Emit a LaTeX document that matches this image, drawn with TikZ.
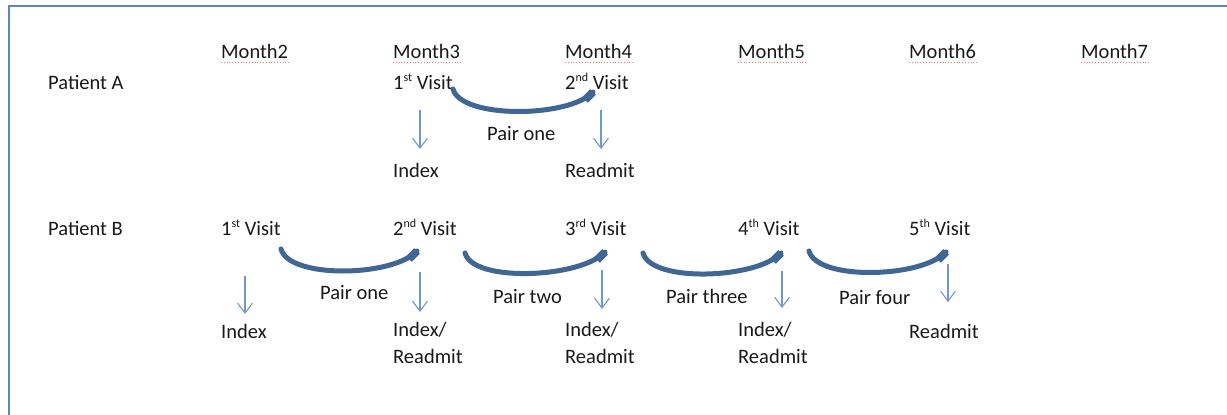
\documentclass[tikz,border=0pt]{standalone}
\usepackage{fontspec}
\setmainfont{Carlito}
\usetikzlibrary{arrows.meta,calc}
\definecolor{framec}{HTML}{5B86C5}
\definecolor{arcc}{HTML}{3F6694}
\definecolor{arrc}{HTML}{6F98CF}
\newcommand{\pairarc}[2]{%
  \draw[arcline] (#1) .. controls ($(#1)+(8,30)$) and ($(#2)+(-24,26)$) .. (#2);
  \draw[arcend] ($(#2)+(-8,8)$) -- (#2);}
\newcommand{\sups}[1]{\raisebox{0.75ex}{\fontsize{12}{12}\selectfont #1}}
\begin{document}
\begin{tikzpicture}[x=1pt,y=-1pt,
  lbl/.style={anchor=base west,inner sep=0pt,font=\fontsize{20.5}{27}\selectfont,text=black!90},
  lbl2/.style={lbl,align=left,anchor=north west},
  arr/.style={draw=arrc,line width=1.1pt,-{Straight Barb[length=10pt,width=15pt]}},
  arcline/.style={draw=arcc,line width=5pt,line cap=round},
  arcend/.style={draw=arcc,line width=8pt},
  spell/.style={draw=red!55,dotted,line width=0.8pt},
  framel/.style={draw=framec,line width=2.5pt}]
\useasboundingbox (0,0) rectangle (1227,415);
\coordinate (ftl) at (9,6);
\coordinate (ftr) at (1227,6);
\coordinate (fbl) at (9,415);
\draw[framel] (ftr) -- (ftl) -- (fbl);
% months
\foreach \n/\x in {2/221,3/393,4/565,5/738,6/909,7/1081}{
  \node[lbl] (m\n) at (\x,58) {Month\n};
  \draw[spell] (m\n.base west)++(0,4) -- ($(m\n.base east)+(0,4)$);
}
% patient A
\node[lbl] (pa) at (48,89) {Patient A};
\node[lbl] (a1) at (393,89) {1\sups{st} Visit};
\node[lbl] (a2) at (565,89) {2\sups{nd} Visit};
\node[lbl] (apo) at (487,140) {Pair one};
\node[lbl] (ai) at (393,177) {Index};
\node[lbl] (ar) at (565,177) {Readmit};
\coordinate (as) at (453,89);
\coordinate (ae) at (593,92);
\pairarc{as}{ae}
\coordinate (aa1t) at (420,110); \coordinate (aa1b) at (420,149);
\coordinate (aa2t) at (601,110); \coordinate (aa2b) at (601,149);
\draw[arr] (aa1t) -- (aa1b);
\draw[arr] (aa2t) -- (aa2b);
% patient B
\node[lbl] (pb) at (48,235) {Patient B};
\node[lbl] (b1) at (221,235) {1\sups{st} Visit};
\node[lbl] (b2) at (393,235) {2\sups{nd} Visit};
\node[lbl] (b3) at (565,235) {3\sups{rd} Visit};
\node[lbl] (b4) at (738,235) {4\sups{th} Visit};
\node[lbl] (b5) at (909,235) {5\sups{th} Visit};
\node[lbl] (bp1) at (320,299) {Pair one};
\node[lbl] (bp2) at (493,303) {Pair two};
\node[lbl] (bp3) at (666,303) {Pair three};
\node[lbl] (bp4) at (839,304) {Pair four};
\node[lbl] (bl1) at (221,338) {Index};
\node[lbl2] (bl2) at (393,322) {Index/\\Readmit};
\node[lbl2] (bl3) at (565,322) {Index/\\Readmit};
\node[lbl2] (bl4) at (738,322) {Index/\\Readmit};
\node[lbl] (bl5) at (909,338) {Readmit};
\coordinate (c1s) at (281,249); \coordinate (c1e) at (417,251);
\coordinate (c2s) at (465,253); \coordinate (c2e) at (605,252);
\coordinate (c3s) at (643,253); \coordinate (c3e) at (781,253);
\coordinate (c4s) at (809,251); \coordinate (c4e) at (946,252);
\pairarc{c1s}{c1e}
\pairarc{c2s}{c2e}
\pairarc{c3s}{c3e}
\pairarc{c4s}{c4e}
\coordinate (d1t) at (245,276); \coordinate (d1b) at (245,314);
\coordinate (d2t) at (420,272); \coordinate (d2b) at (420,312);
\coordinate (d3t) at (602,270); \coordinate (d3b) at (602,309);
\coordinate (d4t) at (782,271); \coordinate (d4b) at (782,308);
\coordinate (d5t) at (948,264); \coordinate (d5b) at (948,302);
\foreach \i in {1,...,5}{\draw[arr] (d\i t) -- (d\i b);}
\end{tikzpicture}
\end{document}
